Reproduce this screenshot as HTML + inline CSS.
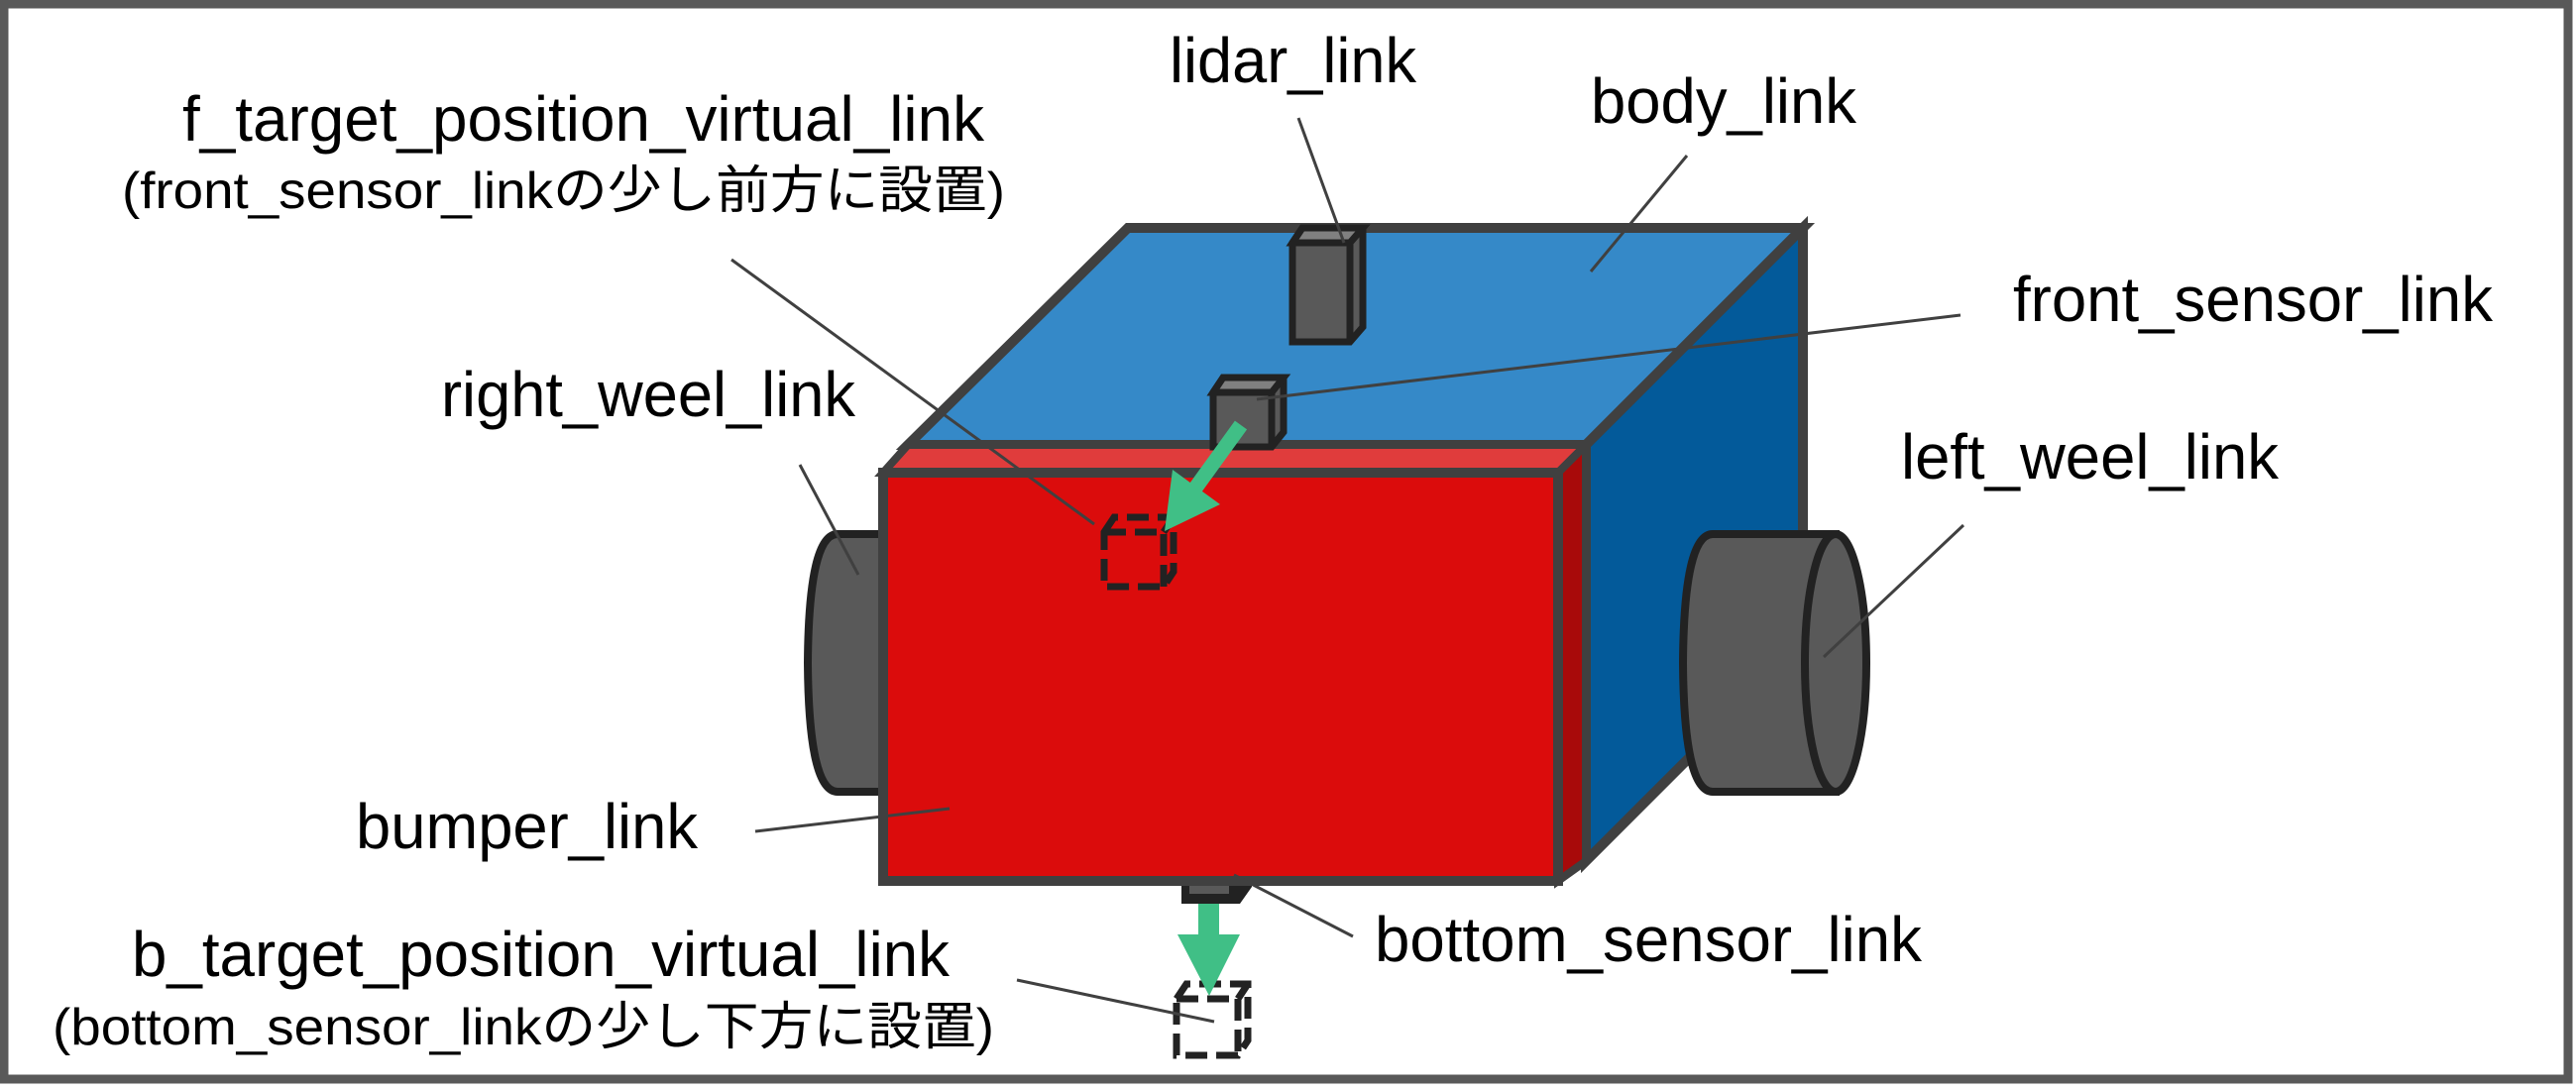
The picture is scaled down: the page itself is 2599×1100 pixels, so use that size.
<!DOCTYPE html>
<html><head><meta charset="utf-8"><style>
html,body{margin:0;padding:0;background:#fff;}
svg{display:block;}
text{font-family:"Liberation Sans","Noto Sans CJK JP",sans-serif;fill:#000;}
</style></head><body>
<svg width="2599" height="1100" viewBox="0 0 2599 1100" xmlns="http://www.w3.org/2000/svg">
<rect x="0" y="0" width="2599" height="1100" fill="#fff"/>
<rect x="4" y="4" width="2587" height="1085" fill="none" stroke="#595959" stroke-width="9"/>

<g stroke="#222" stroke-width="8" fill="#595959">
<path d="M900 539 L845 539 Q816 539 815 669 Q816 799 845 799 L900 799 Z"/>
</g>

<polygon points="1138,230 1819,230 1600,449 916,449" fill="#3589c8" stroke="#404040" stroke-width="10" stroke-linejoin="miter"/>
<polygon points="1600,449 1819,230 1819,650 1600,869" fill="#035a9a" stroke="#404040" stroke-width="10"/>
<polygon points="891,477 916,449 1600,449 1572,477" fill="#e03c3c" stroke="#404040" stroke-width="8"/>
<polygon points="1572,477 1600,449 1600,869 1572,889" fill="#a80a0a" stroke="#404040" stroke-width="8"/>
<polygon points="1192,885 1263,885 1263,895 1251,912 1192,912" fill="#222"/>
<rect x="1200" y="890" width="40" height="12" fill="#595959"/>
<rect x="891" y="477" width="681" height="412" fill="#db0c0c" stroke="#404040" stroke-width="10"/>

<g stroke="#222" stroke-width="8" fill="#595959">
<path d="M1852 539 L1728 539 Q1699 539 1698 669 Q1699 799 1728 799 L1852 799 Z"/>
<ellipse cx="1852" cy="669" rx="31" ry="130"/>
</g>

<g stroke="#222" stroke-width="7" stroke-linejoin="miter">
<polygon points="1304,245 1314,230 1375,230 1375,330 1362,345 1304,345" fill="#595959"/>
<polygon points="1304,245 1314,230 1375,230 1362,245" fill="#808080"/>
<line x1="1362" y1="245" x2="1362" y2="345"/>
</g>
<g stroke="#222" stroke-width="7">
<polygon points="1224,396 1234,381 1295,381 1295,436 1283,451 1224,451" fill="#595959"/>
<polygon points="1224,396 1234,381 1295,381 1283,396" fill="#808080"/>
<line x1="1283" y1="396" x2="1283" y2="451"/>
</g>

<g fill="none" stroke="#222" stroke-width="7" stroke-dasharray="22 9">
<polygon points="1114,537 1124,522 1184,522 1184,577 1174,592 1114,592"/>
<polyline points="1114,537 1174,537 1174,592"/>
<line x1="1174" y1="537" x2="1184" y2="522"/>
<polygon points="1187,1008 1197,993 1259,993 1259,1050 1249,1065 1187,1065"/>
<polyline points="1187,1008 1249,1008 1249,1065"/>
<line x1="1249" y1="1008" x2="1259" y2="993"/>
</g>

<g fill="#40bf86">
<line x1="1252" y1="429" x2="1205" y2="494" stroke="#40bf86" stroke-width="15"/>
<polygon points="1175,536 1231,509 1183,474"/>
<rect x="1209" y="912" width="21" height="33"/>
<polygon points="1188,943 1251,943 1220,1005"/>
</g>

<g stroke="#404040" stroke-width="3" fill="none">
<line x1="1310" y1="119" x2="1356" y2="245"/>
<line x1="1702" y1="157" x2="1605" y2="274"/>
<line x1="1978" y1="318" x2="1268" y2="403"/>
<line x1="738" y1="262" x2="1104" y2="529"/>
<line x1="807" y1="469" x2="866" y2="580"/>
<line x1="1981" y1="530" x2="1840" y2="663"/>
<line x1="762" y1="839" x2="958" y2="816"/>
<line x1="1245" y1="883" x2="1365" y2="945"/>
<line x1="1026" y1="989" x2="1225" y2="1031"/>
</g>

<g font-size="64">
<text x="1180" y="83" textLength="249" lengthAdjust="spacingAndGlyphs">lidar_link</text>
<text x="1605" y="124" textLength="268" lengthAdjust="spacingAndGlyphs">body_link</text>
<text x="184" y="142" textLength="809" lengthAdjust="spacingAndGlyphs">f_target_position_virtual_link</text>
<text x="2031" y="324" textLength="484" lengthAdjust="spacingAndGlyphs">front_sensor_link</text>
<text x="445" y="420" textLength="418" lengthAdjust="spacingAndGlyphs">right_weel_link</text>
<text x="1918" y="483" textLength="381" lengthAdjust="spacingAndGlyphs">left_weel_link</text>
<text x="359" y="856" textLength="345" lengthAdjust="spacingAndGlyphs">bumper_link</text>
<text x="1387" y="970" textLength="552" lengthAdjust="spacingAndGlyphs">bottom_sensor_link</text>
<text x="133" y="985" textLength="825" lengthAdjust="spacingAndGlyphs">b_target_position_virtual_link</text>
</g>
<g font-size="52">
<text x="123" y="210" textLength="891" lengthAdjust="spacingAndGlyphs">(front_sensor_linkの少し前方に設置)</text>
<text x="53" y="1054" textLength="950" lengthAdjust="spacingAndGlyphs">(bottom_sensor_linkの少し下方に設置)</text>
</g>
</svg>
</body></html>
